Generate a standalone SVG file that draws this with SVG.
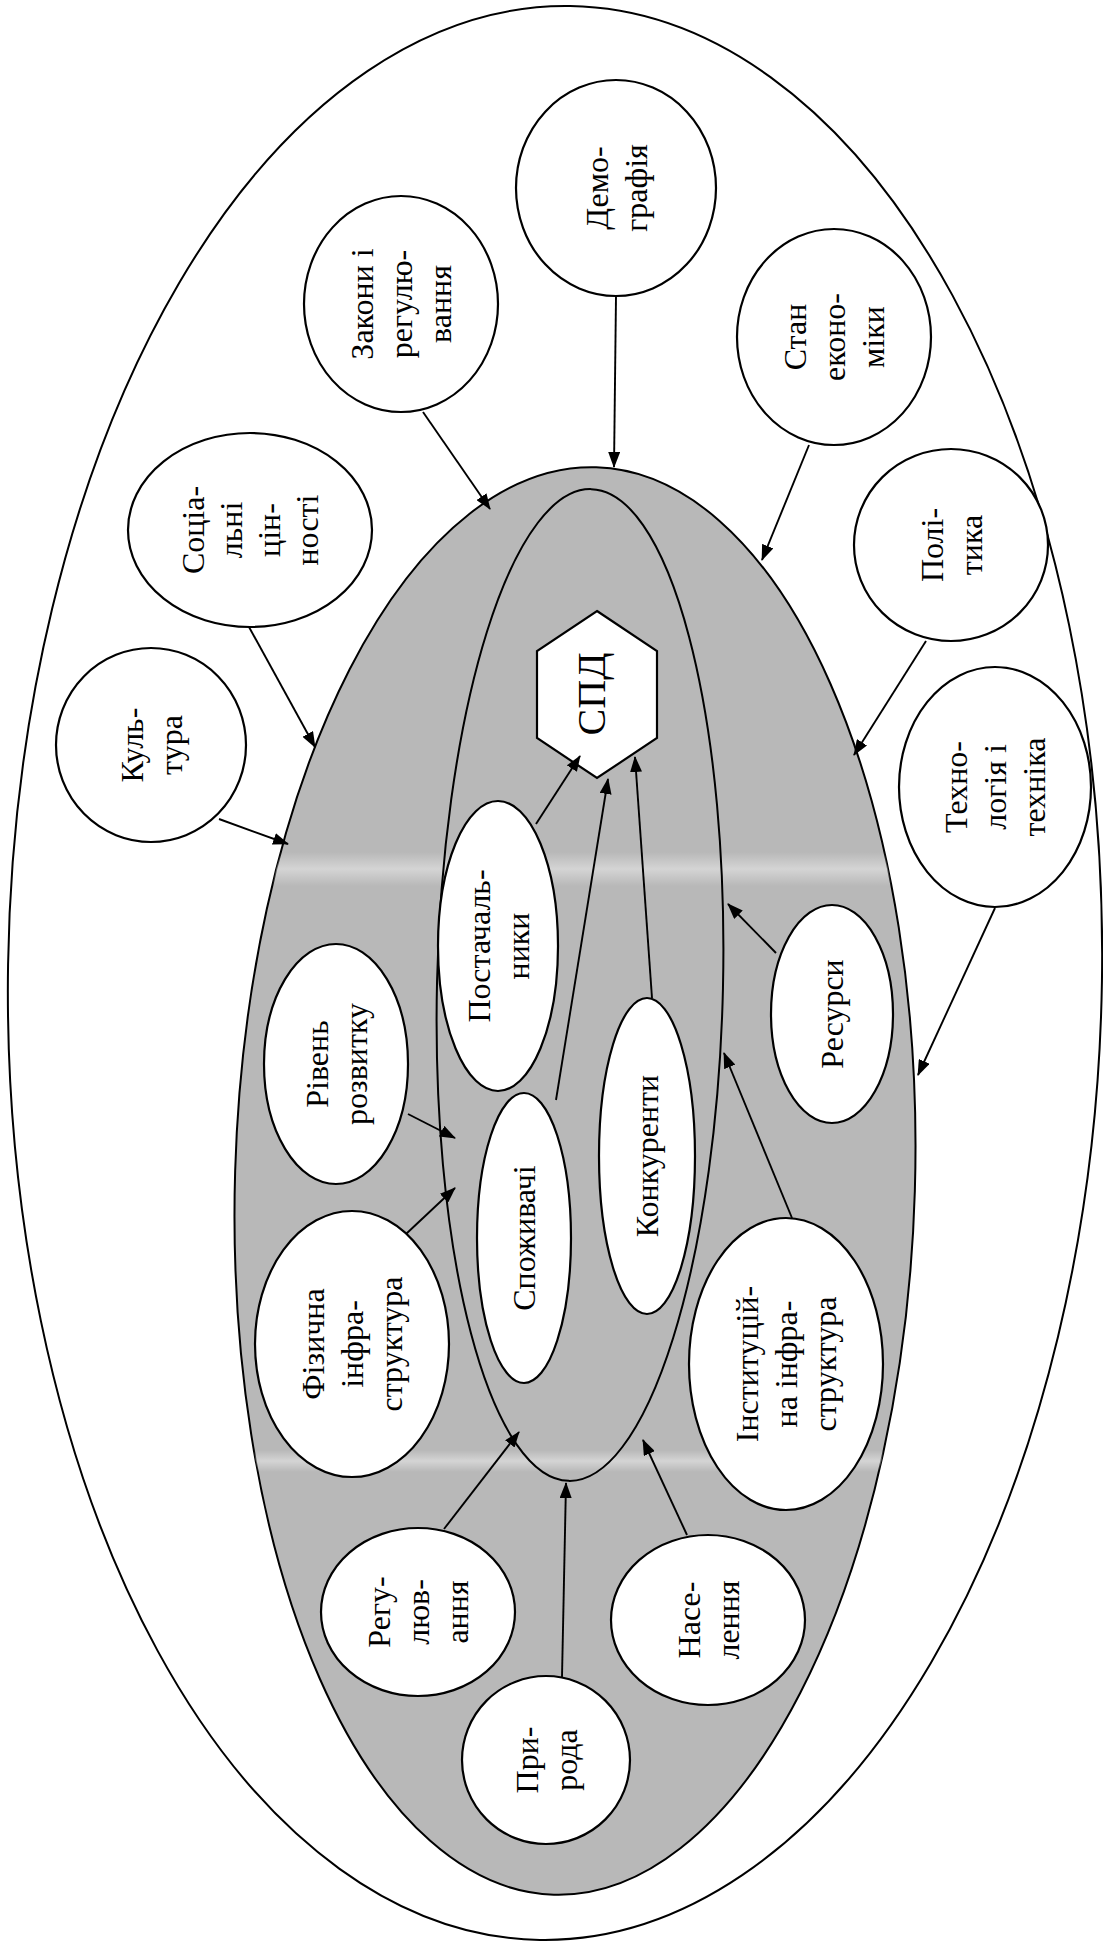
<svg xmlns="http://www.w3.org/2000/svg" width="1103" height="1944" viewBox="0 0 1103 1944">
  <defs>
    <style>
      .zone { stroke: #000; stroke-width: 2; }
      .node { fill: #fff; stroke: #000; stroke-width: 2.2; }
      .lbl { font-family: "Liberation Serif", "Times New Roman", serif; font-size: 32px; fill: #000; text-anchor: middle; }
      .big { font-size: 40px; }
      .link { fill: none; stroke: #000; stroke-width: 1.9; marker-end: url(#ah); }
    </style>
    <marker id="ah" viewBox="0 0 16 12" refX="15" refY="6" markerWidth="16" markerHeight="12" orient="auto" markerUnits="userSpaceOnUse">
      <path d="M0,0 L16,6 L0,12 z" fill="#000"/>
    </marker>
    <clipPath id="grayClip">
      <ellipse cx="575" cy="1181" rx="340" ry="714" transform="rotate(1.7 575 1181)"/>
    </clipPath>
    <linearGradient id="streak" x1="0" y1="0" x2="0" y2="1">
      <stop offset="0" stop-color="#fff" stop-opacity="0"/>
      <stop offset="0.5" stop-color="#fff" stop-opacity="0.4"/>
      <stop offset="1" stop-color="#fff" stop-opacity="0"/>
    </linearGradient>
  </defs>

  <rect width="1103" height="1944" fill="#fff"/>

  <!-- external environment -->
  <g id="macro-zone">
    <ellipse class="zone" cx="555" cy="973" rx="547" ry="967" fill="#fff" stroke-width="1.8" transform="rotate(0.9 555 973)"/>
  </g>

  <!-- shaded micro-environment -->
  <g id="micro-zone">
    <ellipse class="zone" cx="575" cy="1181" rx="340" ry="714" fill="#b8b8b8" transform="rotate(1.7 575 1181)"/>
    <g clip-path="url(#grayClip)">
      <rect x="230" y="852" width="700" height="34" fill="url(#streak)"/>
      <rect x="230" y="1450" width="700" height="22" fill="url(#streak)"/>
    </g>
  </g>

  <!-- immediate environment -->
  <g id="task-zone">
    <ellipse class="zone" cx="580" cy="985" rx="143" ry="496" fill="none" transform="rotate(1.3 580 985)"/>
  </g>

  <!-- outer factors -->
  <g id="demografia">
    <ellipse class="node" cx="616" cy="188" rx="100" ry="108"/>
    <text class="lbl" transform="translate(616 188) rotate(-90)"><tspan x="0" y="-8.5">Демо-</tspan><tspan x="0" y="30.5">графія</tspan></text>
  </g>
  <g id="zakony">
    <ellipse class="node" cx="401" cy="304" rx="97" ry="108"/>
    <text class="lbl" transform="translate(401 304) rotate(-90)"><tspan x="0" y="-28">Закони і</tspan><tspan x="0" y="11">регулю-</tspan><tspan x="0" y="50">вання</tspan></text>
  </g>
  <g id="stan-ekonomiky">
    <ellipse class="node" cx="834" cy="337" rx="97" ry="108"/>
    <text class="lbl" transform="translate(834 337) rotate(-90)"><tspan x="0" y="-28">Стан</tspan><tspan x="0" y="11">еконо-</tspan><tspan x="0" y="50">міки</tspan></text>
  </g>
  <g id="sotsialni-tsinnosti">
    <ellipse class="node" cx="250" cy="530" rx="122" ry="97"/>
    <text class="lbl" transform="translate(250 530) rotate(-90)"><tspan x="0" y="-46">Соціа-</tspan><tspan x="0" y="-8">льні</tspan><tspan x="0" y="30">цін-</tspan><tspan x="0" y="68">ності</tspan></text>
  </g>
  <g id="polityka">
    <ellipse class="node" cx="951" cy="545" rx="97" ry="96"/>
    <text class="lbl" transform="translate(951 545) rotate(-90)"><tspan x="0" y="-8.5">Полі-</tspan><tspan x="0" y="30.5">тика</tspan></text>
  </g>
  <g id="kultura">
    <ellipse class="node" cx="151" cy="745" rx="95" ry="97"/>
    <text class="lbl" transform="translate(151 745) rotate(-90)"><tspan x="0" y="-8.5">Куль-</tspan><tspan x="0" y="30.5">тура</tspan></text>
  </g>
  <g id="tekhnolohiia">
    <ellipse class="node" cx="995" cy="787" rx="96" ry="120"/>
    <text class="lbl" transform="translate(995 787) rotate(-90)"><tspan x="0" y="-28">Техно-</tspan><tspan x="0" y="11">логія і</tspan><tspan x="0" y="50">техніка</tspan></text>
  </g>

  <!-- micro-environment factors -->
  <g id="riven-rozvytku">
    <ellipse class="node" cx="336" cy="1064" rx="72" ry="120"/>
    <text class="lbl" transform="translate(336 1064) rotate(-90)"><tspan x="0" y="-8.5">Рівень</tspan><tspan x="0" y="30.5">розвитку</tspan></text>
  </g>
  <g id="fizychna-infrastruktura">
    <ellipse class="node" cx="352" cy="1344" rx="97" ry="133"/>
    <text class="lbl" transform="translate(352 1344) rotate(-90)"><tspan x="0" y="-28">Фізична</tspan><tspan x="0" y="11">інфра-</tspan><tspan x="0" y="50">структура</tspan></text>
  </g>
  <g id="resursy">
    <ellipse class="node" cx="832" cy="1014" rx="61" ry="109"/>
    <text class="lbl" transform="translate(832 1014) rotate(-90)"><tspan x="0" y="11">Ресурси</tspan></text>
  </g>
  <g id="instytutsiina-infrastruktura">
    <ellipse class="node" cx="786" cy="1364" rx="97" ry="146"/>
    <text class="lbl" transform="translate(786 1364) rotate(-90)"><tspan x="0" y="-28">Інституцій-</tspan><tspan x="0" y="11">на інфра-</tspan><tspan x="0" y="50">структура</tspan></text>
  </g>
  <g id="rehuliuvannia">
    <ellipse class="node" cx="418" cy="1612" rx="97" ry="84"/>
    <text class="lbl" transform="translate(418 1612) rotate(-90)"><tspan x="0" y="-28">Регу-</tspan><tspan x="0" y="11">люв-</tspan><tspan x="0" y="50">ання</tspan></text>
  </g>
  <g id="pryroda">
    <ellipse class="node" cx="546" cy="1760" rx="84" ry="84"/>
    <text class="lbl" transform="translate(546 1760) rotate(-90)"><tspan x="0" y="-8.5">При-</tspan><tspan x="0" y="30.5">рода</tspan></text>
  </g>
  <g id="naselennia">
    <ellipse class="node" cx="708" cy="1620" rx="97" ry="85"/>
    <text class="lbl" transform="translate(708 1620) rotate(-90)"><tspan x="0" y="-8.5">Насе-</tspan><tspan x="0" y="30.5">лення</tspan></text>
  </g>

  <!-- immediate environment actors -->
  <g id="postachalnyky">
    <ellipse class="node" cx="498" cy="946" rx="60" ry="145"/>
    <text class="lbl" transform="translate(498 946) rotate(-90)"><tspan x="0" y="-8.5">Постачаль-</tspan><tspan x="0" y="30.5">ники</tspan></text>
  </g>
  <g id="spozhyvachi">
    <ellipse class="node" cx="524" cy="1238" rx="47" ry="145"/>
    <text class="lbl" transform="translate(524 1238) rotate(-90)"><tspan x="0" y="11">Споживачі</tspan></text>
  </g>
  <g id="konkurenty">
    <ellipse class="node" cx="647" cy="1156" rx="48" ry="158"/>
    <text class="lbl" transform="translate(647 1156) rotate(-90)"><tspan x="0" y="11">Конкуренти</tspan></text>
  </g>

  <!-- the enterprise -->
  <g id="spd">
    <polygon class="node" points="597,611 657,651 657,738 597,778 537,738 537,651"/>
    <text class="lbl big" transform="translate(592 694) rotate(-90)"><tspan x="0" y="13">СПД</tspan></text>
  </g>

  <!-- influence arrows -->
  <g id="connectors">
    <line class="link" x1="616" y1="296" x2="614" y2="467"/>
    <line class="link" x1="423" y1="412" x2="490" y2="509"/>
    <line class="link" x1="809" y1="445" x2="762" y2="560"/>
    <line class="link" x1="249" y1="627" x2="315" y2="747"/>
    <line class="link" x1="219" y1="819" x2="288" y2="844"/>
    <line class="link" x1="926" y1="641" x2="854" y2="755"/>
    <line class="link" x1="995" y1="908" x2="918" y2="1075"/>
    <line class="link" x1="776" y1="953" x2="728" y2="904"/>
    <line class="link" x1="792" y1="1218" x2="724" y2="1053"/>
    <line class="link" x1="408" y1="1114" x2="455" y2="1138"/>
    <line class="link" x1="406" y1="1234" x2="455" y2="1188"/>
    <line class="link" x1="444" y1="1529" x2="519" y2="1432"/>
    <line class="link" x1="562" y1="1677" x2="566" y2="1483"/>
    <line class="link" x1="687" y1="1535" x2="643" y2="1440"/>
    <line class="link" x1="536" y1="824" x2="580" y2="756"/>
    <line class="link" x1="556" y1="1100" x2="608" y2="779"/>
    <line class="link" x1="652" y1="998" x2="635" y2="757"/>
  </g>
</svg>
